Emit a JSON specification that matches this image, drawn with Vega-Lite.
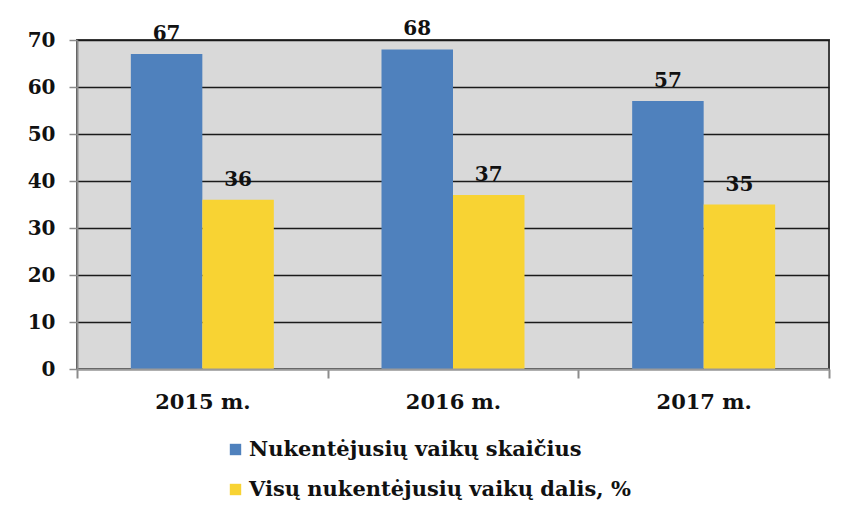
{
  "$schema": "https://vega.github.io/schema/vega-lite/v6.json",
  "width": 752,
  "height": 329,
  "autosize": {"type": "none"},
  "padding": {"left": 77, "top": 40, "right": 13, "bottom": 147},
  "background": "#ffffff",
  "data": {
    "values": [
      {"year": "2015 m.", "series": "Nukentėjusių vaikų skaičius", "value": 67},
      {"year": "2015 m.", "series": "Visų nukentėjusių vaikų dalis, %", "value": 36},
      {"year": "2016 m.", "series": "Nukentėjusių vaikų skaičius", "value": 68},
      {"year": "2016 m.", "series": "Visų nukentėjusių vaikų dalis, %", "value": 37},
      {"year": "2017 m.", "series": "Nukentėjusių vaikų skaičius", "value": 57},
      {"year": "2017 m.", "series": "Visų nukentėjusių vaikų dalis, %", "value": 35}
    ]
  },
  "encoding": {
    "x": {
      "field": "year", "type": "nominal", "title": null,
      "scale": {"paddingInner": 0, "paddingOuter": 0},
      "axis": {
        "labelAngle": 0, "labelFont": "DejaVu Serif", "labelFontWeight": "bold",
        "labelFontSize": 21, "labelColor": "#111111", "labelPadding": 13,
        "tickBand": "extent", "tickSize": 9, "tickColor": "#8c8c8c", "tickWidth": 2,
        "domainColor": "#9a9a9a", "domainWidth": 2, "grid": false, "zindex": 1
      }
    },
    "xOffset": {"field": "series", "type": "nominal", "scale": {"paddingInner": 0, "paddingOuter": 0.753}},
    "y": {
      "field": "value", "type": "quantitative", "title": null,
      "scale": {"domain": [0, 70], "nice": false},
      "axis": {
        "values": [0, 10, 20, 30, 40, 50, 60, 70],
        "labelFont": "DejaVu Serif", "labelFontWeight": "bold", "labelFontSize": 20,
        "labelColor": "#111111", "labelPadding": 14,
        "tickSize": 8, "tickColor": "#8c8c8c", "tickWidth": 1.5,
        "domainColor": "#8c8c8c", "domainWidth": 2,
        "grid": true, "gridColor": "#1a1a1a", "gridWidth": 1.5
      }
    }
  },
  "layer": [
    {
      "mark": {"type": "bar"},
      "encoding": {
        "color": {
          "field": "series", "type": "nominal",
          "scale": {"range": ["#4f81bd", "#f8d333"]},
          "legend": {
            "title": null, "orient": "none", "direction": "vertical",
            "legendX": 148, "legendY": 399,
            "symbolType": "square", "symbolSize": 130, "symbolStrokeWidth": 0,
            "labelFont": "DejaVu Serif", "labelFontWeight": "bold", "labelFontSize": 21,
            "labelColor": "#111111", "labelOffset": 3, "rowPadding": 18, "labelLimit": 700
          }
        }
      }
    },
    {
      "mark": {"type": "text", "dy": -20, "font": "DejaVu Serif", "fontWeight": "bold", "fontSize": 20, "color": "#111111"},
      "encoding": {
        "text": {"field": "value", "type": "quantitative"}
      }
    }
  ],
  "config": {
    "view": {"fill": "#d9d9d9", "stroke": "#404040", "strokeWidth": 2},
    "axis": {"gridOpacity": 1}
  }
}
